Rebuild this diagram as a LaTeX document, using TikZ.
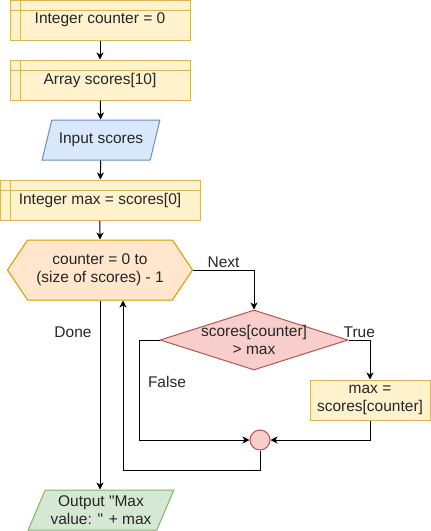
\documentclass[tikz,border=0pt]{standalone}
\usepackage{fontspec}
\setmainfont{Liberation Sans}
\usetikzlibrary{shapes.geometric,shapes.symbols,arrows.meta}

\definecolor{procfill}{HTML}{FFF2CC}
\definecolor{procline}{HTML}{D6B656}
\definecolor{infill}{HTML}{DAE8FC}
\definecolor{inline}{HTML}{6C8EBF}
\definecolor{loopfill}{HTML}{FFE6CC}
\definecolor{loopline}{HTML}{D79B00}
\definecolor{testfill}{HTML}{F8CECC}
\definecolor{testline}{HTML}{B85450}
\definecolor{outfill}{HTML}{D5E8D4}
\definecolor{outline}{HTML}{82B366}

\begin{document}
\begin{tikzpicture}[x=1pt,y=-1pt,
  font=\fontsize{15.5}{18}\selectfont,
  every node/.style={line width=1pt,align=center,inner sep=2pt,text=black!85},
  proc/.style={rectangle,draw=procline,fill=procfill,minimum height=40pt},
  store/.style={proc,path picture={
      \draw[procline,line width=1pt]
        ([xshift=10pt]path picture bounding box.north west) -- ([xshift=10pt]path picture bounding box.south west)
        ([yshift=-10pt]path picture bounding box.north west) -- ([yshift=-10pt]path picture bounding box.north east);}},
  io/.style={trapezium,trapezium stretches=true,trapezium left angle=64,trapezium right angle=116,
      minimum height=40pt},
  flow/.style={line width=1pt,-{Stealth[length=7pt,width=7pt,inset=2pt]}}]
  \useasboundingbox (0,0) rectangle (431,531);

  \node[store,minimum width=180pt] (counter) at (100,20) {Integer counter = 0};
  \node[store,minimum width=180pt] (scores) at (100,80) {Array scores[10]};
  \node[io,draw=inline,fill=infill,minimum width=118pt] (input) at (101,140) {Input scores};
  \node[store,minimum width=200pt] (max) at (100,200) {Integer max = scores[0]};
  \node[signal,signal to=west and east,signal pointer angle=112.6,draw=loopline,fill=loopfill,
        minimum width=185pt,minimum height=60pt] (loop) at (100,270) {counter = 0 to\\(size of scores) - 1};
  \node[diamond,draw=testline,fill=testfill,aspect=3.13,inner sep=-4pt,
        minimum width=188pt,minimum height=60pt] (test) at (254,340) {scores[counter]\\> max};
  \node[proc,minimum width=120pt] (update) at (370,400) {max =\\scores[counter]};
  \node[circle,draw=testline,fill=testfill,minimum size=20pt,inner sep=0pt] (join) at (260,440) {};
  \node[io,draw=outline,fill=outfill,minimum width=146pt] (output) at (101,510)
        {Output \textquotedbl Max\\value: \textquotedbl{} + max};

  \draw[flow] (counter) -- (scores);
  \draw[flow] (scores) -- (input);
  \draw[flow] (input) -- (max);
  \draw[flow] (max) -- (loop);
  \draw[flow] (loop.east) -| node[pos=0.25,above] {Next} (test.north);
  \draw[flow] (test.east) -| node[pos=0.25,above] {True} (update.north);
  \draw[flow] (test.west) -- ++(-20,0) |- node[pos=0.21,right,xshift=6pt] {False} (join.west);
  \draw[flow] (update.south) |- (join.east);
  \draw[flow] (join.south) -- ++(0,20) -| ([xshift=23pt]loop.south);
  \draw[flow] (loop.south) -- node[pos=0.17,left,xshift=-6pt] {Done} (output.north -| loop.south);
\end{tikzpicture}
\end{document}
